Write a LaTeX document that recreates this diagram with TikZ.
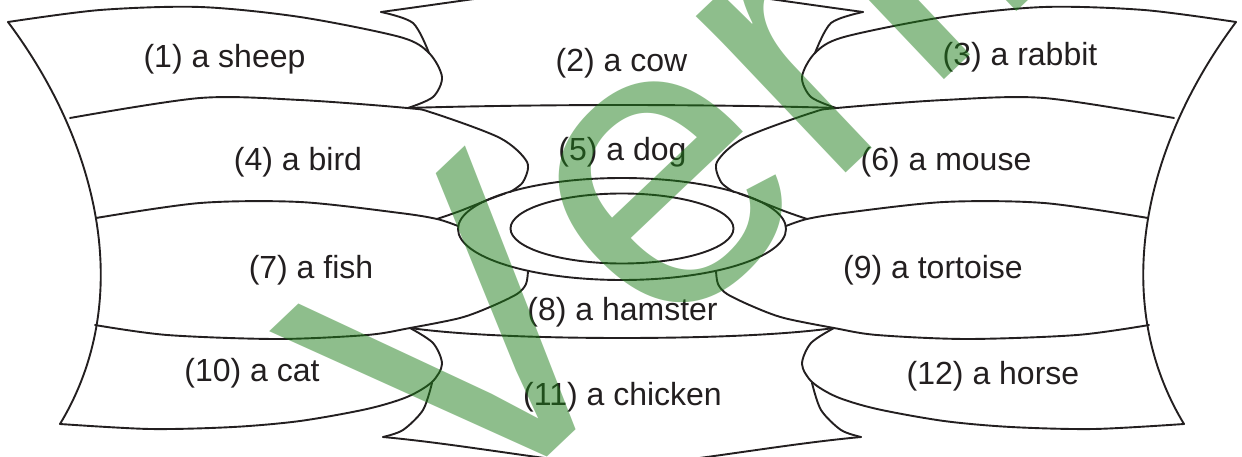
\documentclass[tikz,border=0pt]{standalone}
\usepackage{fontspec}
\setmainfont{Liberation Sans}
\newfontfamily\wmfont{Liberation Sans}[Kerning=Off]
\definecolor{ink}{RGB}{35,31,32}
\definecolor{wmgreen}{RGB}{30,125,25}
\tikzset{
  line/.style={draw=ink, line width=1.9pt, line join=round, line cap=round},
  lbl/.style={text=ink, font=\fontsize{32}{38}\selectfont, anchor=base, inner sep=0pt},
  wmark/.style={text=wmgreen, text opacity=0.5, font=\wmfont\fontsize{410}{410}\selectfont, anchor=base west, inner sep=0pt, rotate=43.5},
}
\newcommand\halfdrawing{%
  % outer side boundary
  \draw[line] (8,22) .. controls (100,145) and (135,300) .. (60,424);
  % sheep lobe
  \draw[line] plot[smooth] coordinates {(8,22) (100,10) (200,7) (300,17) (400,37) (429,53) (442,77) (433,97) (408,108)};
  % upper cusp curve
  \draw[line] plot[smooth] coordinates {(381,12) (413,23) (429,53)};
  % top line
  \draw[line] (381,12) .. controls (470,0) and (560,-15) .. (622,-15);
  % row 1 line and bird lobe
  \draw[line] plot[smooth] coordinates {(70,118) (200,98) (300,100) (407,108) (433,113) (500,138) (527,162) (523,182) (510,192)};
  % cow bottom
  \draw[line] (407,108) .. controls (470,106) and (560,105) .. (622,105);
  % row 2 line
  \draw[line] plot[smooth] coordinates {(96,218) (200,203) (300,202) (400,213) (437,219) (458,226)};
  % bird lower curve
  \draw[line] plot[smooth] coordinates {(437,219) (460,211) (490,199) (505,193.5)};
  % row 3 line and fish lobe
  \draw[line] plot[smooth] coordinates {(95,325) (167,335) (277,339) (367,335) (410,328) (460,318) (490,307) (517,294) (526,284) (528,271)};
  % hamster bottom
  \draw[line] (410,328) .. controls (460,335) and (540,338) .. (622,338);
  % cat lobe
  \draw[line] plot[smooth] coordinates {(410,328) (433,343) (442,364) (432,382) (407,397) (367,409) (300,421) (233,427) (150,429) (60,424)};
  % lower cusp curve
  \draw[line] plot[smooth] coordinates {(383,437) (403,430) (423,410) (432,383)};
  % bottom line
  \draw[line] (383,437) .. controls (470,445) and (570,465) .. (622,465);
}
\begin{document}
\begin{tikzpicture}[x=1pt,y=-1pt]
\useasboundingbox (0,0) rectangle (1242,457);
\begin{scope}
\clip (0,0) rectangle (1242,457);
\halfdrawing
\begin{scope}[xshift=1244pt, xscale=-1]
\halfdrawing
\end{scope}
\draw[line] (622,229) ellipse [x radius=164pt, y radius=51pt];
\draw[line] (622,228.5) ellipse [x radius=111.5pt, y radius=35pt];
\node[lbl] (n1) at (224.5,67.5) {(1) a sheep};
\node[lbl] (n2) at (621.5,71.8) {(2) a cow};
\node[lbl] (n3) at (1020,66) {(3) a rabbit};
\node[lbl] (n4) at (298,170.8) {(4) a bird};
\node[lbl] (n5) at (622.5,160.8) {(5) a dog};
\node[lbl] (n6) at (946,170.8) {(6) a mouse};
\node[lbl] (n7) at (311,278.3) {(7) a fish};
\node[lbl] (n8) at (622.5,320.8) {(8) a hamster};
\node[lbl] (n9) at (933,278.3) {(9) a tortoise};
\node[lbl] (n10) at (252,381.6) {(10) a cat};
\node[lbl] (n11) at (622.5,405.8) {(11) a chicken};
\node[lbl] (n12) at (993,384.1) {(12) a horse};
\node[wmark] (wm) at (462,538) {Verified};
\end{scope}
\end{tikzpicture}
\end{document}
